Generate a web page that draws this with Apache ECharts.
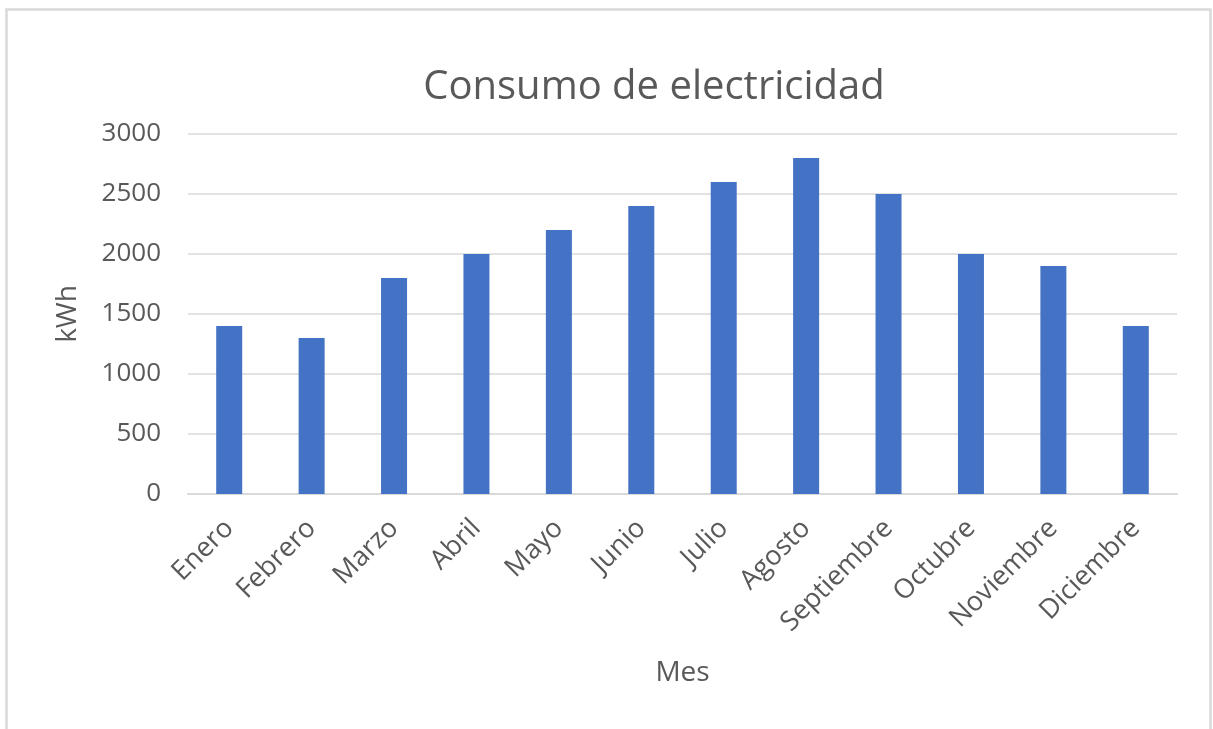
<!DOCTYPE html>
<html>
<head>
<meta charset="utf-8">
<script src="https://cdn.jsdelivr.net/npm/echarts@6/dist/echarts.min.js"></script>
<style>
  html, body { margin: 0; padding: 0; background: #fff; }
  #chart { width: 1213px; height: 729px; }
</style>
</head>
<body>
<div id="chart"></div>
<script>
// Monthly electricity consumption (kWh)
const months = ['Enero', 'Febrero', 'Marzo', 'Abril', 'Mayo', 'Junio', 'Julio',
  'Agosto', 'Septiembre', 'Octubre', 'Noviembre', 'Diciembre'];
const consumption = [1400, 1300, 1800, 2000, 2200, 2400, 2600, 2800, 2500, 2000, 1900, 1400];
const yTicks = [0, 500, 1000, 1500, 2000, 2500, 3000];

const FONT = '"Open Sans", "Noto Sans", sans-serif';
const TEXT = '#595959';
const GRID_LINE = '#d9d9d9';

const chart = echarts.init(document.getElementById('chart'), null, { renderer: 'canvas' });

chart.setOption({
  animation: false,
  backgroundColor: '#ffffff',
  title: {
    text: 'Consumo de electricidad',
    left: 649,
    top: 63,
    textAlign: 'center',
    textStyle: { fontFamily: FONT, fontSize: 40, fontWeight: 'normal', color: TEXT }
  },
  graphic: [{
    type: 'rect',
    silent: true,
    shape: { x: 6.5, y: 9.5, width: 1204, height: 740 },
    style: { fill: 'none', stroke: GRID_LINE, lineWidth: 2.5 }
  }],
  grid: {
    left: 188,
    right: 36,
    top: 134,
    bottom: 235,
    containLabel: false,
    outerBoundsMode: 'none'
  },
  xAxis: {
    type: 'category',
    data: months,
    name: 'Mes',
    nameLocation: 'middle',
    nameGap: 165,
    nameTextStyle: { fontFamily: FONT, fontSize: 28, color: TEXT },
    axisLine: { show: true, lineStyle: { color: GRID_LINE, width: 2 } },
    axisTick: { show: false },
    axisLabel: {
      interval: 0,
      rotate: 45,
      margin: 30,
      fontFamily: FONT,
      fontSize: 27,
      color: TEXT
    }
  },
  yAxis: {
    type: 'value',
    min: yTicks[0],
    max: yTicks[yTicks.length - 1],
    interval: yTicks[1] - yTicks[0],
    name: 'kWh',
    nameLocation: 'middle',
    nameGap: 106,
    nameRotate: 90,
    nameTextStyle: { fontFamily: FONT, fontSize: 28, color: TEXT },
    axisLine: { show: false },
    axisTick: { show: false },
    axisLabel: {
      margin: 27,
      fontFamily: FONT,
      fontSize: 26,
      color: TEXT,
      formatter: (v) => String(v)
    },
    splitLine: { show: true, lineStyle: { color: GRID_LINE, width: 1.5 } }
  },
  series: [{
    type: 'bar',
    data: consumption,
    barWidth: 26,
    itemStyle: { color: '#4472c4' }
  }]
});
</script>
</body>
</html>
